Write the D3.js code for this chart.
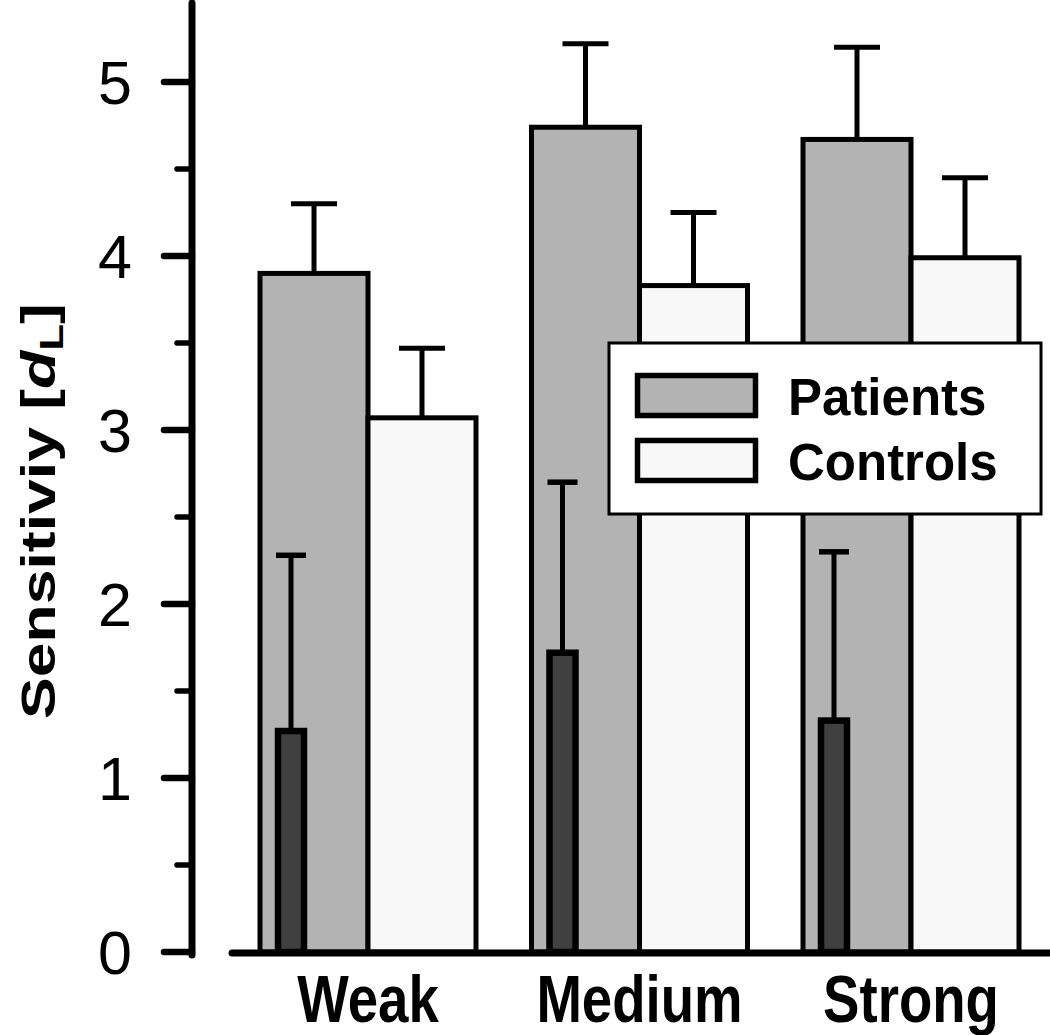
<!DOCTYPE html>
<html><head><meta charset="utf-8">
<script src="https://cdn.jsdelivr.net/npm/d3@7"></script>
<style>html,body{margin:0;padding:0;background:#fff;}svg{display:block;}</style>
</head><body>
<script>
const categories = ["Weak", "Medium", "Strong"];
const patients = [3.90, 4.74, 4.67];
const patientsErr = [4.30, 5.22, 5.20];
const controls = [3.07, 3.83, 3.99];
const controlsErr = [3.47, 4.25, 4.45];
const subgroup = [1.27, 1.72, 1.33];
const subgroupErr = [2.28, 2.70, 2.30];
const yTicks = [0, 1, 2, 3, 4, 5];
const yMinorTicks = [0.5, 1.5, 2.5, 3.5, 4.5];
const legendLabels = ["Patients", "Controls"];

const W = 1050, H = 1035;
const FONT = "'Liberation Sans', Arial, sans-serif";
const svg = d3.select("body").append("svg").attr("width", W).attr("height", H);

const y = d3.scaleLinear().domain([0, 952 / 174]).range([952, 0]);
const x = d3.scalePoint().domain(categories).range([368, 911]);
const barW = 108;

// bars
const g = svg.append("g");
categories.forEach((c, i) => {
  const cx = x(c);
  // patients
  g.append("line").attr("x1", cx - barW / 2).attr("x2", cx - barW / 2)
    .attr("y1", y(patients[i])).attr("y2", y(patientsErr[i])).attr("stroke", "#000").attr("stroke-width", 5);
  g.append("line").attr("x1", cx - barW / 2 - 23).attr("x2", cx - barW / 2 + 23)
    .attr("y1", y(patientsErr[i])).attr("y2", y(patientsErr[i])).attr("stroke", "#000").attr("stroke-width", 5);
  g.append("rect").attr("x", cx - barW).attr("width", barW)
    .attr("y", y(patients[i])).attr("height", y(0) - y(patients[i]))
    .attr("fill", "#b3b3b3").attr("stroke", "#000").attr("stroke-width", 5);
  // controls
  g.append("line").attr("x1", cx + barW / 2).attr("x2", cx + barW / 2)
    .attr("y1", y(controls[i])).attr("y2", y(controlsErr[i])).attr("stroke", "#000").attr("stroke-width", 5);
  g.append("line").attr("x1", cx + barW / 2 - 23).attr("x2", cx + barW / 2 + 23)
    .attr("y1", y(controlsErr[i])).attr("y2", y(controlsErr[i])).attr("stroke", "#000").attr("stroke-width", 5);
  g.append("rect").attr("x", cx).attr("width", barW)
    .attr("y", y(controls[i])).attr("height", y(0) - y(controls[i]))
    .attr("fill", "#f8f8f8").attr("stroke", "#000").attr("stroke-width", 5);
  // subgroup (dark)
  const sx = cx - 77;
  g.append("line").attr("x1", sx).attr("x2", sx)
    .attr("y1", y(subgroup[i])).attr("y2", y(subgroupErr[i])).attr("stroke", "#000").attr("stroke-width", 5);
  g.append("line").attr("x1", sx - 15).attr("x2", sx + 15)
    .attr("y1", y(subgroupErr[i])).attr("y2", y(subgroupErr[i])).attr("stroke", "#000").attr("stroke-width", 5.5);
  g.append("rect").attr("x", sx - 13).attr("width", 26)
    .attr("y", y(subgroup[i])).attr("height", y(0) - y(subgroup[i]))
    .attr("fill", "#404040").attr("stroke", "#000").attr("stroke-width", 6.5);
});

// x axis line
svg.append("line").attr("x1", 232).attr("x2", 1050).attr("y1", y(0) + 1).attr("y2", y(0) + 1)
  .attr("stroke", "#000").attr("stroke-width", 7).attr("stroke-linecap", "round");

// y axis
const ya = svg.append("g").attr("transform", "translate(192,0)");
ya.append("line").attr("x1", 0).attr("x2", 0).attr("y1", 3).attr("y2", y(0) + 3)
  .attr("stroke", "#000").attr("stroke-width", 7).attr("stroke-linecap", "round");
ya.selectAll(".maj").data(yTicks).join("line")
  .attr("x1", -28).attr("x2", 0).attr("y1", d => y(d)).attr("y2", d => y(d))
  .attr("stroke", "#000").attr("stroke-width", 6.5).attr("stroke-linecap", "round");
ya.selectAll(".min").data(yMinorTicks).join("line")
  .attr("x1", -15).attr("x2", 0).attr("y1", d => y(d)).attr("y2", d => y(d))
  .attr("stroke", "#000").attr("stroke-width", 5.5).attr("stroke-linecap", "round");
svg.selectAll(".ylab").data(yTicks).join("text")
  .attr("x", 132).attr("y", d => y(d) + 22)
  .attr("text-anchor", "end").attr("font-family", FONT).attr("font-size", 61)
  .text(d => d);

// x labels
svg.selectAll(".xlab").data(categories).join("text")
  .attr("transform", d => `translate(${x(d)},1022) scale(1.03,1.25)`)
  .attr("text-anchor", "middle").attr("font-family", FONT).attr("font-size", 53)
  .attr("font-weight", "bold").text(d => d);

// y title
const yt = svg.append("text")
  .attr("transform", "translate(55,511) rotate(-90) scale(1.33,1.02)")
  .attr("text-anchor", "middle").attr("font-family", FONT).attr("font-size", 47)
  .attr("font-weight", "bold");
yt.append("tspan").text("Sensitiviy [");
yt.append("tspan").attr("font-style", "italic").text("d");
yt.append("tspan").attr("font-size", 33).attr("dy", 8).text("L");
yt.append("tspan").attr("dy", -8).text("]");

// legend
const lg = svg.append("g");
lg.append("rect").attr("x", 609).attr("y", 343).attr("width", 432).attr("height", 171)
  .attr("fill", "#fff").attr("stroke", "#000").attr("stroke-width", 3);
const fills = ["#b3b3b3", "#f8f8f8"];
const swY = [375.5, 440.5];
const txtY = [415, 480];
legendLabels.forEach((l, i) => {
  lg.append("rect").attr("x", 637.5).attr("y", swY[i]).attr("width", 118).attr("height", 40)
    .attr("fill", fills[i]).attr("stroke", "#000").attr("stroke-width", 5.5);
  lg.append("text").attr("x", 788).attr("y", txtY[i]).attr("font-family", FONT)
    .attr("font-size", 51).attr("font-weight", "bold").text(l);
});
</script>
</body></html>
